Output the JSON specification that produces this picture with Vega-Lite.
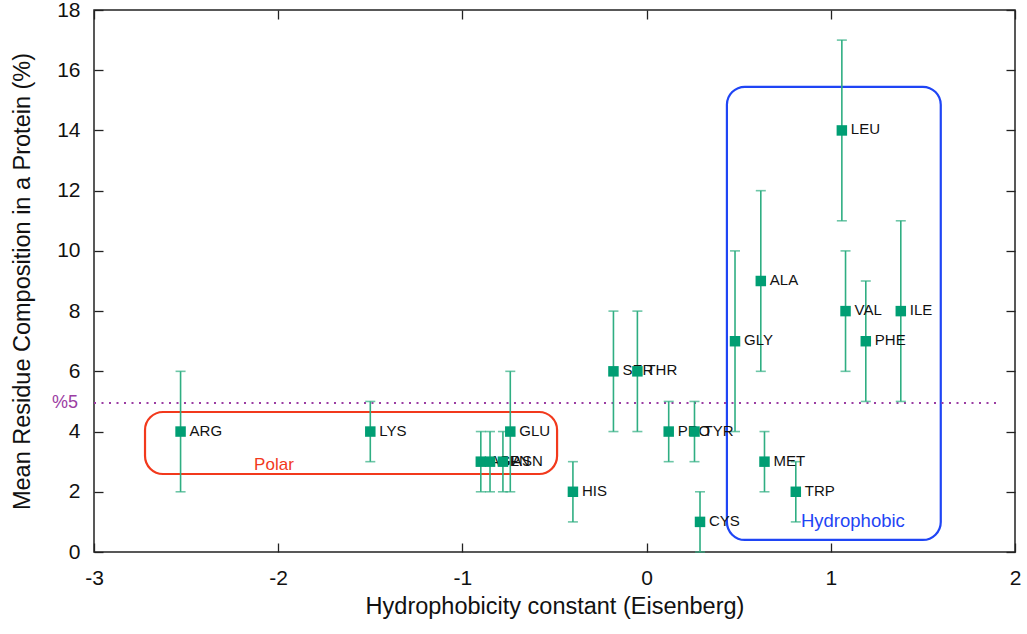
{
  "$schema": "https://vega.github.io/schema/vega-lite/v6.json",
  "width": 921,
  "height": 542,
  "autosize": "none",
  "padding": {"left": 94, "top": 10, "right": 12, "bottom": 82},
  "background": "white",
  "config": {
    "font": "Liberation Sans",
    "view": {"stroke": "#222222", "strokeWidth": 1.5},
    "axis": {
      "domain": false,
      "grid": false,
      "offset": -9,
      "tickColor": "#222222",
      "tickWidth": 1.3,
      "tickSize": 9,
      "labelColor": "#111111",
      "labelFont": "Liberation Sans",
      "labelFontSize": 21,
      "labelFlush": false,
      "labelOverlap": false,
      "labelExpr": "'' + datum.value",
      "titleFont": "Liberation Sans",
      "titleFontSize": 23.5,
      "titleFontWeight": "normal",
      "titleColor": "#111111"
    }
  },
  "datasets": {
    "residues": [
      {"name": "ARG", "h": -2.53, "v": 4, "lo": 2, "hi": 6},
      {"name": "LYS", "h": -1.50, "v": 4, "lo": 3, "hi": 5},
      {"name": "ASP", "h": -0.90, "v": 3, "lo": 2, "hi": 4},
      {"name": "GLN", "h": -0.85, "v": 3, "lo": 2, "hi": 4},
      {"name": "ASN", "h": -0.78, "v": 3, "lo": 2, "hi": 4},
      {"name": "GLU", "h": -0.74, "v": 4, "lo": 2, "hi": 6},
      {"name": "HIS", "h": -0.40, "v": 2, "lo": 1, "hi": 3},
      {"name": "SER", "h": -0.18, "v": 6, "lo": 4, "hi": 8},
      {"name": "THR", "h": -0.05, "v": 6, "lo": 4, "hi": 8},
      {"name": "PRO", "h": 0.12, "v": 4, "lo": 3, "hi": 5},
      {"name": "TYR", "h": 0.26, "v": 4, "lo": 3, "hi": 5},
      {"name": "CYS", "h": 0.29, "v": 1, "lo": 0, "hi": 2},
      {"name": "GLY", "h": 0.48, "v": 7, "lo": 4, "hi": 10},
      {"name": "ALA", "h": 0.62, "v": 9, "lo": 6, "hi": 12},
      {"name": "MET", "h": 0.64, "v": 3, "lo": 2, "hi": 4},
      {"name": "TRP", "h": 0.81, "v": 2, "lo": 1, "hi": 3},
      {"name": "LEU", "h": 1.06, "v": 14, "lo": 11, "hi": 17},
      {"name": "VAL", "h": 1.08, "v": 8, "lo": 6, "hi": 10},
      {"name": "PHE", "h": 1.19, "v": 7, "lo": 5, "hi": 9},
      {"name": "ILE", "h": 1.38, "v": 8, "lo": 5, "hi": 11}
    ],
    "groups": [
      {"group": "Polar", "x1": -2.723, "x2": -0.486, "y1": 2.59, "y2": 4.65, "lx": -2.023, "ly": 2.89, "fs": 17},
      {"group": "Hydrophobic", "x1": 0.436, "x2": 1.597, "y1": 0.40, "y2": 15.45, "lx": 1.12, "ly": 1.03, "fs": 18.5}
    ],
    "threshold": [
      {"label": "%5", "from": -3, "to": 1.92, "level": 4.95}
    ]
  },
  "resolve": {"axis": {"x": "independent", "y": "independent"}},
  "layer": [
    {
      "data": {"name": "groups"},
      "mark": {"type": "rect", "fill": null, "fillOpacity": 0, "strokeWidth": 2.2, "cornerRadius": 18},
      "encoding": {
        "x": {"field": "x1", "type": "quantitative", "scale": {"domain": [-3, 2], "nice": false, "zero": false}, "axis": null},
        "x2": {"field": "x2"},
        "y": {"field": "y1", "type": "quantitative", "scale": {"domain": [0, 18], "nice": false, "zero": false}, "axis": null},
        "y2": {"field": "y2"},
        "stroke": {"field": "group", "type": "nominal", "scale": {"domain": ["Polar", "Hydrophobic"], "range": ["#f2391c", "#1f45f5"]}, "legend": null}
      }
    },
    {
      "data": {"name": "groups"},
      "mark": {"type": "text", "baseline": "middle", "align": "center"},
      "encoding": {
        "x": {"field": "lx", "type": "quantitative", "scale": {"domain": [-3, 2], "nice": false, "zero": false}, "axis": null},
        "y": {"field": "ly", "type": "quantitative", "scale": {"domain": [0, 18], "nice": false, "zero": false}, "axis": null},
        "text": {"field": "group"},
        "size": {"field": "fs", "type": "quantitative", "scale": null},
        "color": {"field": "group", "type": "nominal", "scale": {"domain": ["Polar", "Hydrophobic"], "range": ["#f2391c", "#1f45f5"]}, "legend": null}
      }
    },
    {
      "data": {"name": "threshold"},
      "mark": {"type": "rule", "color": "#9b3da3", "strokeWidth": 2, "strokeDash": [2, 5.5]},
      "encoding": {
        "x": {"field": "from", "type": "quantitative", "scale": {"domain": [-3, 2], "nice": false, "zero": false}, "axis": null},
        "x2": {"field": "to"},
        "y": {"field": "level", "type": "quantitative", "scale": {"domain": [0, 18], "nice": false, "zero": false}, "axis": null}
      }
    },
    {
      "data": {"name": "threshold"},
      "mark": {"type": "text", "color": "#9b3da3", "fontSize": 18, "align": "right", "baseline": "middle", "dx": -16, "clip": false},
      "encoding": {
        "x": {"field": "from", "type": "quantitative", "scale": {"domain": [-3, 2], "nice": false, "zero": false}, "axis": null},
        "y": {"field": "level", "type": "quantitative", "scale": {"domain": [0, 18], "nice": false, "zero": false}, "axis": null},
        "text": {"field": "label"}
      }
    },
    {
      "data": {"name": "residues"},
      "mark": {"type": "rule", "color": "#2fae82", "strokeWidth": 1.6},
      "encoding": {
        "x": {"field": "h", "type": "quantitative", "scale": {"domain": [-3, 2], "nice": false, "zero": false},
          "axis": {"orient": "bottom", "values": [-3, -2, -1, 0, 1, 2], "title": "Hydrophobicity constant (Eisenberg)", "labelPadding": 15, "titleY": 70, "titleBaseline": "alphabetic"}},
        "y": {"field": "lo", "type": "quantitative", "scale": {"domain": [0, 18], "nice": false, "zero": false},
          "axis": {"orient": "left", "values": [0, 2, 4, 6, 8, 10, 12, 14, 16, 18], "title": "Mean Residue Composition in a Protein (%)", "labelPadding": 14, "titleX": -74, "titleY": 271, "titleAngle": -90, "titleBaseline": "alphabetic", "titleAlign": "center"}},
        "y2": {"field": "hi"}
      }
    },
    {
      "data": {"name": "residues"},
      "mark": {"type": "tick", "orient": "horizontal", "size": 10, "thickness": 1.6, "color": "#2fae82"},
      "encoding": {
        "x": {"field": "h", "type": "quantitative", "scale": {"domain": [-3, 2], "nice": false, "zero": false},
          "axis": {"orient": "top", "values": [-3, -2, -1, 0, 1, 2], "labels": false, "title": null}},
        "y": {"field": "lo", "type": "quantitative", "scale": {"domain": [0, 18], "nice": false, "zero": false},
          "axis": {"orient": "right", "values": [0, 2, 4, 6, 8, 10, 12, 14, 16, 18], "labels": false, "title": null}}
      }
    },
    {
      "data": {"name": "residues"},
      "mark": {"type": "tick", "orient": "horizontal", "size": 10, "thickness": 1.6, "color": "#2fae82"},
      "encoding": {
        "x": {"field": "h", "type": "quantitative", "scale": {"domain": [-3, 2], "nice": false, "zero": false}, "axis": null},
        "y": {"field": "hi", "type": "quantitative", "scale": {"domain": [0, 18], "nice": false, "zero": false}, "axis": null}
      }
    },
    {
      "data": {"name": "residues"},
      "mark": {"type": "text", "align": "left", "baseline": "middle", "dx": 9, "dy": -1, "fontSize": 15, "color": "#111111"},
      "encoding": {
        "x": {"field": "h", "type": "quantitative", "scale": {"domain": [-3, 2], "nice": false, "zero": false}, "axis": null},
        "y": {"field": "v", "type": "quantitative", "scale": {"domain": [0, 18], "nice": false, "zero": false}, "axis": null},
        "text": {"field": "name"}
      }
    },
    {
      "data": {"name": "residues"},
      "mark": {"type": "point", "shape": "square", "filled": true, "size": 110, "color": "#009e73", "opacity": 1},
      "encoding": {
        "x": {"field": "h", "type": "quantitative", "scale": {"domain": [-3, 2], "nice": false, "zero": false}, "axis": null},
        "y": {"field": "v", "type": "quantitative", "scale": {"domain": [0, 18], "nice": false, "zero": false}, "axis": null}
      }
    }
  ]
}
